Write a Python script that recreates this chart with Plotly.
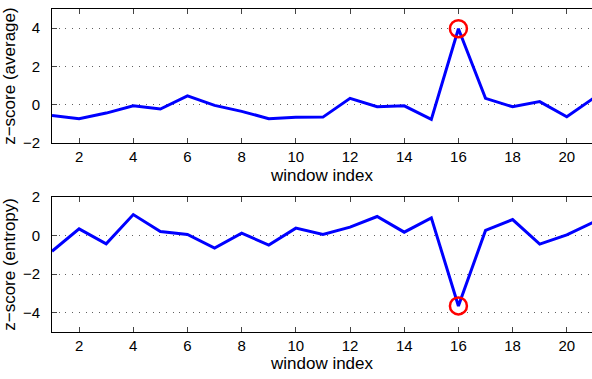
import plotly.graph_objects as go

window_index = list(range(1, 22))
z_average = [-0.55, -0.72, -0.43, -0.05, -0.22, 0.47, -0.03, -0.34, -0.72, -0.65,
             -0.64, 0.34, -0.10, -0.05, -0.76, 3.97, 0.34, -0.10, 0.17, -0.62, 0.36]
z_entropy = [-0.82, 0.34, -0.43, 1.08, 0.20, 0.05, -0.65, 0.12, -0.50, 0.38,
             0.05, 0.43, 0.98, 0.17, 0.91, -3.65, 0.26, 0.82, -0.45, 0.03, 0.70]
anomaly_index = 16
x_ticks = [2, 4, 6, 8, 10, 12, 14, 16, 18, 20]
y_ticks_avg = [-2, 0, 2, 4]
y_ticks_ent = [-4, -2, 0, 2]

family = "Liberation Sans, Arial, sans-serif"
tick_font = dict(family=family, size=15, color="black")
title_font = dict(family=family, size=17, color="black")

fig = go.Figure()
for vals, ya, xa in [(z_average, "y", "x"), (z_entropy, "y2", "x2")]:
    fig.add_trace(go.Scatter(x=window_index, y=vals, mode="lines",
                             line=dict(color="#0000ff", width=3),
                             xaxis=xa, yaxis=ya, showlegend=False))
    fig.add_trace(go.Scatter(x=[anomaly_index], y=[vals[anomaly_index - 1]], mode="markers",
                             marker=dict(symbol="circle-open", size=17, color="#ff0000",
                                         line=dict(color="#ff0000", width=2.5)),
                             xaxis=xa, yaxis=ya, showlegend=False))

common_x = dict(range=[1, 20.93], tickvals=x_ticks, ticks="inside", ticklen=5,
                showline=True, linecolor="black", linewidth=1, mirror="ticks",
                showgrid=False, zeroline=False, tickfont=tick_font,
                title=dict(text="window index", font=title_font, standoff=4))
common_y = dict(ticks="inside", ticklen=5, showline=True, linecolor="black", linewidth=1,
                showgrid=True, gridcolor="#606060", griddash="1px,5.7px", gridwidth=1,
                zeroline=False, tickfont=tick_font, ticklabelstandoff=8)

fig.update_layout(
    width=592, height=379,
    margin=dict(l=52, r=0, t=7, b=47),
    paper_bgcolor="white", plot_bgcolor="white",
    font=tick_font,
    xaxis=dict(domain=[0, 1], anchor="y", **common_x),
    yaxis=dict(domain=[0.5846, 1.0], anchor="x", range=[-2, 5], tickvals=y_ticks_avg,
               title=dict(text="z\u2212score (average)", font=title_font, standoff=2), **common_y),
    xaxis2=dict(domain=[0, 1], anchor="y2", **common_x),
    yaxis2=dict(domain=[0, 0.4185], anchor="x2", range=[-5, 2], tickvals=y_ticks_ent,
                title=dict(text="z\u2212score (entropy)", font=title_font, standoff=2), **common_y),
)

fig.write_html("out.html")
